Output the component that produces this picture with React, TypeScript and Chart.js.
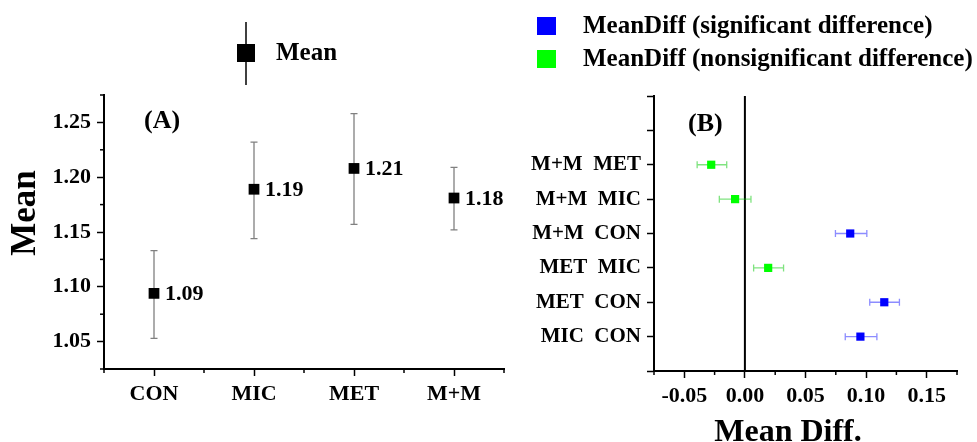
import React, { useEffect, useRef } from 'react';
import { Chart, registerables } from 'chart.js';
Chart.register(...registerables);

// ---------- Panel A data ----------
const groups = ['CON', 'MIC', 'MET', 'M+M'];
const groupMeans = [1.094, 1.189, 1.208, 1.181];
const groupLower = [1.053, 1.144, 1.157, 1.152];
const groupUpper = [1.133, 1.232, 1.258, 1.209];
const meanTicks = [1.025, 1.05, 1.075, 1.1, 1.125, 1.15, 1.175, 1.2, 1.225, 1.25, 1.275];
const groupTicks = [0.5, 1, 1.5, 2, 2.5, 3, 3.5, 4, 4.5];

// ---------- Panel B data ----------
const pairLabels = ['MIC  CON', 'MET  CON', 'MET  MIC', 'M+M  CON', 'M+M  MIC', 'M+M  MET'];
const pairDiff = [0.0953, 0.115, 0.0192, 0.0869, -0.0081, -0.0278];
const pairLow = [0.0828, 0.103, 0.0072, 0.0747, -0.0211, -0.0394];
const pairHigh = [0.1089, 0.1275, 0.0319, 0.1006, 0.005, -0.015];
const pairSignificant = [true, true, false, true, false, false];
const diffTicks = [-0.075, -0.05, -0.025, 0, 0.025, 0.05, 0.075, 0.1, 0.125, 0.15, 0.175];
const pairTicks = [0, 1, 2, 3, 4, 5, 6, 7, 8];

const FONT = "'Liberation Serif', 'Times New Roman', serif";
const BLUE = '#0000ff';
const GREEN = '#00ff00';
const BLUE_ERR = 'rgba(0,0,255,0.45)';
const GREEN_ERR = 'rgba(0,200,0,0.5)';

const isMult = (v: number, step: number) => Math.abs(v / step - Math.round(v / step)) < 1e-6;

const minorTickPlugin = (id: string, spec: { x?: (v: number) => boolean; y?: (v: number) => boolean }) => ({
  id,
  afterDraw(chart: any) {
    const ctx = chart.ctx;
    const { left, bottom } = chart.chartArea;
    ctx.save();
    ctx.strokeStyle = '#000';
    ctx.lineWidth = 1.5;
    if (spec.x) {
      const s = chart.scales.x;
      s.ticks.forEach((t: any) => {
        if (!spec.x!(t.value)) {
          const px = s.getPixelForValue(t.value);
          ctx.beginPath();
          ctx.moveTo(px, bottom);
          ctx.lineTo(px, bottom + 4);
          ctx.stroke();
        }
      });
    }
    if (spec.y) {
      const s = chart.scales.y;
      s.ticks.forEach((t: any) => {
        if (!spec.y!(t.value)) {
          const py = s.getPixelForValue(t.value);
          ctx.beginPath();
          ctx.moveTo(left, py);
          ctx.lineTo(left - 4, py);
          ctx.stroke();
        }
      });
    }
    ctx.restore();
  },
});

export default function App() {
  const leftRef = useRef<HTMLCanvasElement>(null);
  const rightRef = useRef<HTMLCanvasElement>(null);

  useEffect(() => {
    const tickFont = { family: FONT, size: 22, weight: 'bold' as const };

    // ---------------- Panel A ----------------
    const leftErr = {
      id: 'leftErr',
      beforeDatasetsDraw(chart: any) {
        const ctx = chart.ctx;
        const xs = chart.scales.x, ys = chart.scales.y;
        ctx.save();
        ctx.strokeStyle = '#808080';
        ctx.lineWidth = 1.3;
        groups.forEach((_, i) => {
          const px = xs.getPixelForValue(i + 1);
          const pl = ys.getPixelForValue(groupLower[i]);
          const pu = ys.getPixelForValue(groupUpper[i]);
          ctx.beginPath();
          ctx.moveTo(px, pl); ctx.lineTo(px, pu);
          ctx.moveTo(px - 3.5, pl); ctx.lineTo(px + 3.5, pl);
          ctx.moveTo(px - 3.5, pu); ctx.lineTo(px + 3.5, pu);
          ctx.stroke();
        });
        ctx.restore();
      },
    };
    const leftText = {
      id: 'leftText',
      afterDraw(chart: any) {
        const ctx = chart.ctx;
        const xs = chart.scales.x, ys = chart.scales.y;
        ctx.save();
        ctx.fillStyle = '#000';
        ctx.textBaseline = 'middle';
        ctx.textAlign = 'left';
        ctx.font = `bold 22px ${FONT}`;
        groups.forEach((_, i) => {
          const px = xs.getPixelForValue(i + 1);
          const py = ys.getPixelForValue(groupMeans[i]);
          ctx.fillText(groupMeans[i].toFixed(2), px + 11, py + 1);
        });
        // panel tag
        ctx.font = `bold 26px ${FONT}`;
        ctx.fillText('(A)', 144, 121);
        // legend
        ctx.strokeStyle = '#000';
        ctx.lineWidth = 1.5;
        ctx.beginPath();
        ctx.moveTo(246, 22); ctx.lineTo(246, 85);
        ctx.stroke();
        ctx.fillRect(237, 44, 18, 18);
        ctx.font = `bold 25px ${FONT}`;
        ctx.fillText('Mean', 276, 54);
        // y title
        ctx.translate(26, 213);
        ctx.rotate(-Math.PI / 2);
        ctx.textAlign = 'center';
        ctx.font = `bold 35px ${FONT}`;
        ctx.fillText('Mean', 0, 0);
        ctx.restore();
      },
    };

    const left = new Chart(leftRef.current!, {
      type: 'scatter',
      data: {
        datasets: [{
          data: groups.map((_, i) => ({ x: i + 1, y: groupMeans[i] })),
          pointStyle: 'rect',
          pointRadius: 7.6,
          backgroundColor: '#000',
          borderColor: '#000',
          borderWidth: 0,
        }],
      },
      options: {
        animation: false,
        responsive: false,
        maintainAspectRatio: false,
        events: [],
        layout: { padding: { left: 0, top: 95, right: 16, bottom: 0 } },
        plugins: { legend: { display: false }, tooltip: { enabled: false } },
        scales: {
          x: {
            type: 'linear', min: 0.5, max: 4.5,
            afterBuildTicks: (s: any) => { s.ticks = groupTicks.map((v) => ({ value: v })); },
            afterFit: (s: any) => { s.height = 73; },
            grid: {
              drawOnChartArea: false, tickLength: 7, tickWidth: 1.5,
              tickColor: (c: any) => (Number.isInteger(c.tick?.value) ? '#000' : 'rgba(0,0,0,0)'),
            },
            border: { color: '#000', width: 2 },
            ticks: {
              font: tickFont, color: '#000', padding: 5, maxRotation: 0, autoSkip: false,
              callback: (v: any) => (Number.isInteger(v) ? groups[v - 1] : ''),
            },
          },
          y: {
            type: 'linear', min: 1.025, max: 1.275,
            afterBuildTicks: (s: any) => { s.ticks = meanTicks.map((v) => ({ value: v })); },
            afterFit: (s: any) => { s.width = 104; },
            grid: {
              drawOnChartArea: false, tickLength: 7, tickWidth: 1.5,
              tickColor: (c: any) => (isMult(c.tick?.value ?? 0, 0.05) ? '#000' : 'rgba(0,0,0,0)'),
            },
            border: { color: '#000', width: 2 },
            ticks: {
              font: tickFont, color: '#000', padding: 6, autoSkip: false,
              callback: (v: any) => (isMult(v, 0.05) ? Number(v).toFixed(2) : ''),
            },
          },
        },
      },
      plugins: [leftErr, minorTickPlugin('leftMinor', { x: (v) => Number.isInteger(v), y: (v) => isMult(v, 0.05) }), leftText],
    } as any);

    // ---------------- Panel B ----------------
    const rightErr = {
      id: 'rightErr',
      beforeDatasetsDraw(chart: any) {
        const ctx = chart.ctx;
        const xs = chart.scales.x, ys = chart.scales.y;
        ctx.save();
        // zero line
        const zx = xs.getPixelForValue(0);
        ctx.strokeStyle = '#000';
        ctx.lineWidth = 2;
        ctx.beginPath();
        ctx.moveTo(zx, chart.chartArea.top);
        ctx.lineTo(zx, chart.chartArea.bottom);
        ctx.stroke();
        ctx.lineWidth = 1.3;
        pairLabels.forEach((_, i) => {
          const py = ys.getPixelForValue(i + 1);
          const pl = xs.getPixelForValue(pairLow[i]);
          const ph = xs.getPixelForValue(pairHigh[i]);
          ctx.strokeStyle = pairSignificant[i] ? BLUE_ERR : GREEN_ERR;
          ctx.beginPath();
          ctx.moveTo(pl, py); ctx.lineTo(ph, py);
          ctx.moveTo(pl, py - 3.5); ctx.lineTo(pl, py + 3.5);
          ctx.moveTo(ph, py - 3.5); ctx.lineTo(ph, py + 3.5);
          ctx.stroke();
        });
        ctx.restore();
      },
    };
    const rightText = {
      id: 'rightText',
      afterDraw(chart: any) {
        const ctx = chart.ctx;
        ctx.save();
        ctx.fillStyle = BLUE;
        ctx.fillRect(37, 17, 19, 18);
        ctx.fillStyle = GREEN;
        ctx.fillRect(37, 50, 19, 18);
        ctx.fillStyle = '#000';
        ctx.textAlign = 'left';
        ctx.textBaseline = 'middle';
        ctx.font = `bold 25px ${FONT}`;
        ctx.fillText('MeanDiff (significant difference)', 83, 27);
        ctx.fillText('MeanDiff (nonsignificant difference)', 83, 60);
        ctx.font = `bold 26px ${FONT}`;
        ctx.fillText('(B)', 188, 124);
        ctx.textAlign = 'center';
        ctx.textBaseline = 'alphabetic';
        ctx.font = `bold 32px ${FONT}`;
        ctx.fillText('Mean Diff.', 288, 441);
        ctx.restore();
      },
    };

    const sigIdx = pairLabels.map((_, i) => i).filter((i) => pairSignificant[i]);
    const nsIdx = pairLabels.map((_, i) => i).filter((i) => !pairSignificant[i]);

    const right = new Chart(rightRef.current!, {
      type: 'scatter',
      data: {
        datasets: [
          {
            label: 'MeanDiff (significant difference)',
            data: sigIdx.map((i) => ({ x: pairDiff[i], y: i + 1 })),
            pointStyle: 'rect', pointRadius: 5.8,
            backgroundColor: BLUE, borderColor: BLUE, borderWidth: 0,
          },
          {
            label: 'MeanDiff (nonsignificant difference)',
            data: nsIdx.map((i) => ({ x: pairDiff[i], y: i + 1 })),
            pointStyle: 'rect', pointRadius: 5.8,
            backgroundColor: GREEN, borderColor: GREEN, borderWidth: 0,
          },
        ],
      },
      options: {
        animation: false,
        responsive: false,
        maintainAspectRatio: false,
        events: [],
        layout: { padding: { left: 0, top: 96, right: 20, bottom: 0 } },
        plugins: { legend: { display: false }, tooltip: { enabled: false } },
        scales: {
          x: {
            type: 'linear', min: -0.075, max: 0.175,
            afterBuildTicks: (s: any) => { s.ticks = diffTicks.map((v) => ({ value: v })); },
            afterFit: (s: any) => { s.height = 71; },
            grid: {
              drawOnChartArea: false, tickLength: 7, tickWidth: 1.5,
              tickColor: (c: any) => (isMult(c.tick?.value ?? 0, 0.05) ? '#000' : 'rgba(0,0,0,0)'),
            },
            border: { color: '#000', width: 2 },
            ticks: {
              font: tickFont, color: '#000', padding: 5, maxRotation: 0, autoSkip: false,
              callback: (v: any) => (isMult(v, 0.05) ? (Math.abs(v) < 1e-9 ? 0 : Number(v)).toFixed(2) : ''),
            },
          },
          y: {
            type: 'linear', min: 0, max: 8,
            afterBuildTicks: (s: any) => { s.ticks = pairTicks.map((v) => ({ value: v })); },
            afterFit: (s: any) => { s.width = 154; },
            grid: { drawOnChartArea: false, tickLength: 7, tickWidth: 1.5, tickColor: '#000' },
            border: { color: '#000', width: 2 },
            ticks: {
              font: { family: FONT, size: 21, weight: 'bold' }, color: '#000', padding: 6, autoSkip: false,
              callback: (v: any) => pairLabels[v - 1] ?? '',
            },
          },
        },
      },
      plugins: [rightErr, minorTickPlugin('rightMinor', { x: (v) => isMult(v, 0.05) }), rightText],
    } as any);

    return () => {
      left.destroy();
      right.destroy();
    };
  }, []);

  return (
    <div style={{ position: 'fixed', left: 0, top: 0, width: 977, height: 442, background: '#fff' }}>
      <canvas ref={leftRef} width={520} height={442} style={{ position: 'absolute', left: 0, top: 0, width: 520, height: 442 }} />
      <canvas ref={rightRef} width={477} height={442} style={{ position: 'absolute', left: 500, top: 0, width: 477, height: 442 }} />
    </div>
  );
}
